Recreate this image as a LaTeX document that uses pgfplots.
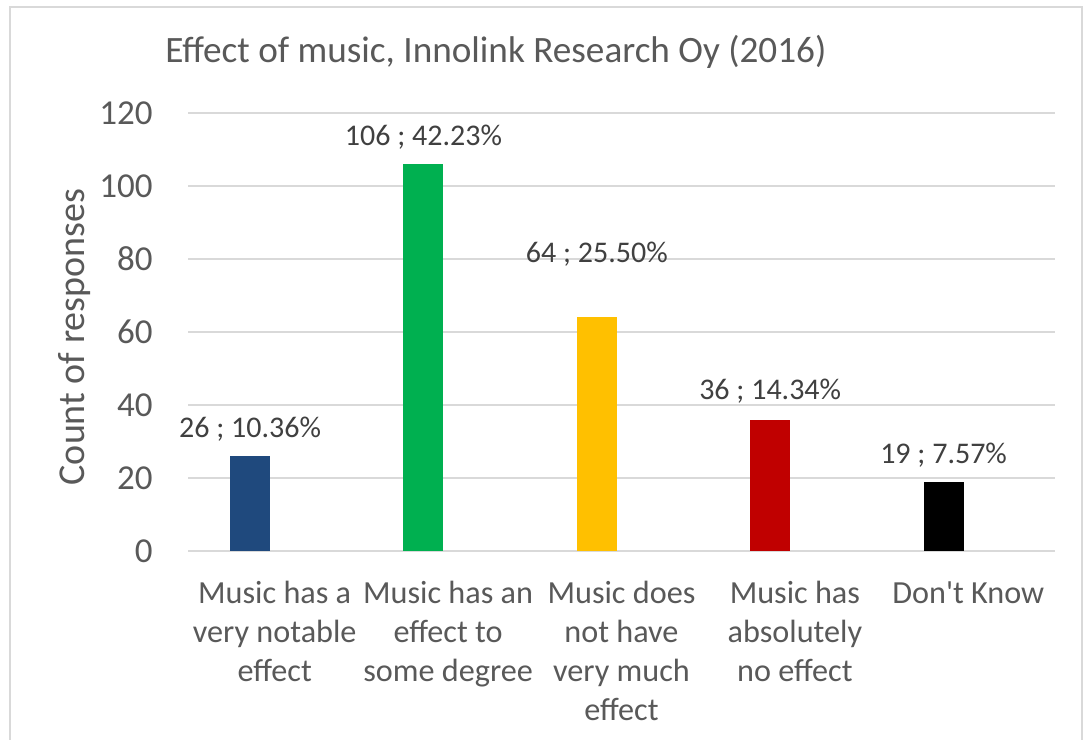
\documentclass[border=0pt]{standalone}
\usepackage{pgfplots}
\pgfplotsset{compat=1.18}
\usepackage{fontspec}
\setmainfont{Carlito}[Ligatures=TeXOff]
\definecolor{txt}{HTML}{595959}
\definecolor{lbl}{HTML}{404040}
\definecolor{gridc}{HTML}{D9D9D9}
\definecolor{cblue}{HTML}{1F497D}
\definecolor{cgreen}{HTML}{00B050}
\definecolor{cyellow}{HTML}{FFC000}
\definecolor{cred}{HTML}{C00000}
\definecolor{cblack}{HTML}{000000}
\begin{document}
\begin{tikzpicture}
\useasboundingbox (0,0) rectangle (542.5pt,369.5pt);
\fill[white] (0,0) rectangle (542.5pt,369.5pt);
\draw[gridc, line width=0.75pt] (5pt,-2pt) -- (5pt,366pt) -- (541pt,366pt) -- (541pt,-2pt);
\node[anchor=base west, inner sep=0pt, text=txt, font=\fontsize{18.6}{22}\selectfont] at (82.5pt,338pt) {Effect of music, Innolink Research Oy (2016)};
\node[rotate=90, anchor=base, inner sep=0pt, text=txt, font=\fontsize{19}{22}\selectfont] at (42pt,201pt) {Count of responses};
\begin{axis}[
  at={(94pt,94pt)}, anchor=south west,
  scale only axis, width=433.5pt, height=219pt,
  xmin=-0.5, xmax=4.5, ymin=0, ymax=120,
  ytick={0,20,...,120},
  xtick={0,1,2,3,4},
  xticklabels={{Music has a\\very notable\\effect},{Music has an\\effect to\\some degree},{Music does\\not have\\very much\\effect},{Music has\\absolutely\\no effect},{Don't Know}},
  /pgf/number format/assume math mode=true,
  axis line style={draw=none},
  major tick length=0pt,
  tick style={draw=none},
  ymajorgrids,
  grid style={gridc, line width=0.75pt},
  yticklabel style={anchor=east, inner sep=0pt, xshift=-17.5pt, text=txt, font=\fontsize{17.5}{21}\selectfont},
  xticklabel style={anchor=north, inner sep=0pt, yshift=-15pt, align=center, text=txt, font=\fontsize{16.1}{19.5}\selectfont},
  clip=false,
]
\addplot[ybar, bar width=20pt, bar shift=-12.35pt, fill=cblue, draw=none] coordinates {(0,26)};
\addplot[ybar, bar width=20pt, bar shift=-12.35pt, fill=cgreen, draw=none] coordinates {(1,106)};
\addplot[ybar, bar width=20pt, bar shift=-12.35pt, fill=cyellow, draw=none] coordinates {(2,64)};
\addplot[ybar, bar width=20pt, bar shift=-12.35pt, fill=cred, draw=none] coordinates {(3,36)};
\addplot[ybar, bar width=20pt, bar shift=-12.35pt, fill=cblack, draw=none] coordinates {(4,19)};
\tikzset{dl/.style={anchor=base, inner sep=0pt, xshift=-12.35pt, text=lbl, font=\fontsize{15}{18}\selectfont}}
\node[dl] at (axis cs:0,31.2) {26 ; 10.36\%};
\node[dl] at (axis cs:1,111.2) {106 ; 42.23\%};
\node[dl] at (axis cs:2,79.0) {64 ; 25.50\%};
\node[dl] at (axis cs:3,41.6) {36 ; 14.34\%};
\node[dl] at (axis cs:4,24.1) {19 ; 7.57\%};
\end{axis}
\end{tikzpicture}
\end{document}
